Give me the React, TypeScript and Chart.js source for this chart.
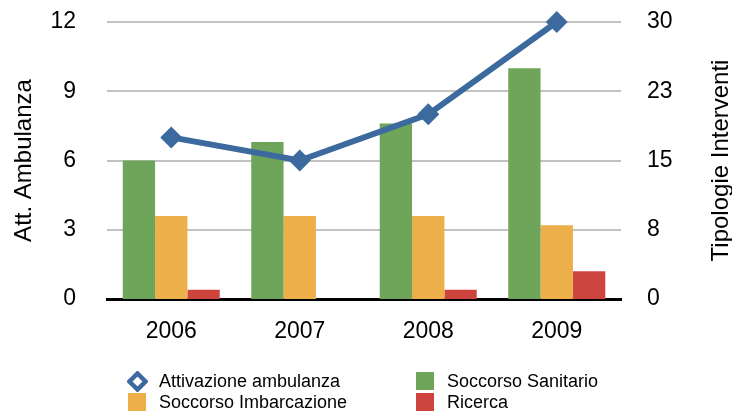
import React, { useEffect, useRef } from "react";
import { Chart, registerables } from "chart.js";

Chart.register(...registerables);

const categories = ["2006", "2007", "2008", "2009"];
const attivazioneAmbulanza = [7, 6, 8, 12];
const soccorsoSanitario = [15, 17, 19, 25];
const soccorsoImbarcazione = [9, 9, 9, 8];
const ricerca = [1, 0, 1, 3];
const leftTicks = [0, 3, 6, 9, 12];
const rightTickValues = [0, 7.5, 15, 22.5, 30];
const rightTickLabels = ["0", "8", "15", "23", "30"];

const FONT = '"Helvetica Neue", Helvetica, Arial, "Liberation Sans", sans-serif';
const BLUE = "#3c6a9e";
const GREEN = "#6fa55a";
const ORANGE = "#edaf4a";
const RED = "#cd443f";

const rightTitlePlugin = {
  id: "rightTitle",
  afterDraw(chart: any) {
    const { ctx, chartArea } = chart;
    ctx.save();
    ctx.translate(721, (chartArea.top + chartArea.bottom) / 2);
    ctx.rotate(-Math.PI / 2);
    ctx.textAlign = "center";
    ctx.textBaseline = "middle";
    ctx.fillStyle = "#000";
    ctx.font = `24px ${FONT}`;
    ctx.fillText("Tipologie Interventi", 0, 0);
    ctx.restore();
  },
};

export default function App() {
  const ref = useRef<HTMLCanvasElement>(null);
  useEffect(() => {
    if (!ref.current) return;
    const chart = new Chart(ref.current, {
      type: "bar",
      data: {
        labels: categories,
        datasets: [
          {
            type: "line",
            label: "Attivazione ambulanza",
            data: attivazioneAmbulanza,
            yAxisID: "y",
            borderColor: BLUE,
            backgroundColor: BLUE,
            borderWidth: 6,
            pointStyle: "rectRot",
            pointRadius: 11,
            pointBorderWidth: 0,
            pointBackgroundColor: BLUE,
            tension: 0,
            clip: false,
            order: 0,
          } as any,
          {
            label: "Soccorso Sanitario",
            data: soccorsoSanitario,
            yAxisID: "y2",
            backgroundColor: GREEN,
            order: 1,
          },
          {
            label: "Soccorso Imbarcazione",
            data: soccorsoImbarcazione,
            yAxisID: "y2",
            backgroundColor: ORANGE,
            order: 1,
          },
          {
            label: "Ricerca",
            data: ricerca,
            yAxisID: "y2",
            backgroundColor: RED,
            order: 1,
          },
        ],
      },
      options: {
        responsive: false,
        animation: false,
        layout: { autoPadding: false, padding: { top: 22, left: 0, right: 0, bottom: 0 } },
        datasets: { bar: { barPercentage: 1, categoryPercentage: 0.755 } },
        plugins: { legend: { display: false }, tooltip: { enabled: false } },
        scales: {
          x: {
            grid: { display: false },
            border: { display: true, color: "#000", width: 3 },
            ticks: { color: "#000", font: { family: FONT, size: 23 }, padding: 11 },
            afterFit(scale: any) {
              scale.height = 112;
            },
          },
          y: {
            position: "left",
            min: 0,
            max: 12,
            afterBuildTicks(scale: any) {
              scale.ticks = leftTicks.map((v) => ({ value: v }));
            },
            grid: {
              drawTicks: false,
              color: (c: any) => (c.tick && c.tick.value === 0 ? "rgba(0,0,0,0)" : "#c2c2c2"),
              lineWidth: 2,
            },
            border: { display: false },
            ticks: { color: "#000", font: { family: FONT, size: 23 }, padding: 31 },
            title: {
              display: true,
              text: "Att. Ambulanza",
              color: "#000",
              font: { family: FONT, size: 24 },
              padding: { top: 10, bottom: 0 },
            },
            afterFit(scale: any) {
              scale.width = 107;
              scale.paddingTop = 0;
              scale.paddingBottom = 0;
            },
          },
          y2: {
            position: "right",
            min: 0,
            max: 30,
            afterBuildTicks(scale: any) {
              scale.ticks = rightTickValues.map((v) => ({ value: v }));
            },
            grid: { display: false, drawTicks: false },
            border: { display: false },
            ticks: {
              color: "#000",
              font: { family: FONT, size: 23 },
              padding: 26,
              callback: (_v: any, i: number) => rightTickLabels[i],
            },
            afterFit(scale: any) {
              scale.width = 111;
              scale.paddingTop = 0;
              scale.paddingBottom = 0;
            },
          },
        },
      },
      plugins: [rightTitlePlugin],
    });
    return () => chart.destroy();
  }, []);

  const textStyle = (left: number, cy: number): React.CSSProperties => ({
    position: "absolute",
    left,
    top: cy - 11,
    height: 22,
    lineHeight: "22px",
    fontFamily: FONT,
    fontSize: 18,
    color: "#000",
    whiteSpace: "nowrap",
  });
  const sq = (left: number, top: number, color: string): React.CSSProperties => ({
    position: "absolute",
    left,
    top,
    width: 18,
    height: 18,
    background: color,
  });

  return (
    <div style={{ position: "absolute", left: 0, top: 0, width: 732, height: 411, background: "#fff", overflow: "hidden" }}>
      <canvas ref={ref} width={732} height={411} style={{ width: 732, height: 411, display: "block" }} />
      <svg style={{ position: "absolute", left: 127, top: 371 }} width={21} height={21}>
        <polygon points="10.5,2.5 18.5,10.5 10.5,18.5 2.5,10.5" fill="#fff" stroke={BLUE} strokeWidth={4.5} />
      </svg>
      <div style={textStyle(159, 381)}>Attivazione ambulanza</div>
      <div style={sq(128, 393, ORANGE)} />
      <div style={textStyle(159, 402)}>Soccorso Imbarcazione</div>
      <div style={sq(416, 372, GREEN)} />
      <div style={textStyle(447, 381)}>Soccorso Sanitario</div>
      <div style={sq(416, 393, RED)} />
      <div style={textStyle(447, 402)}>Ricerca</div>
    </div>
  );
}
